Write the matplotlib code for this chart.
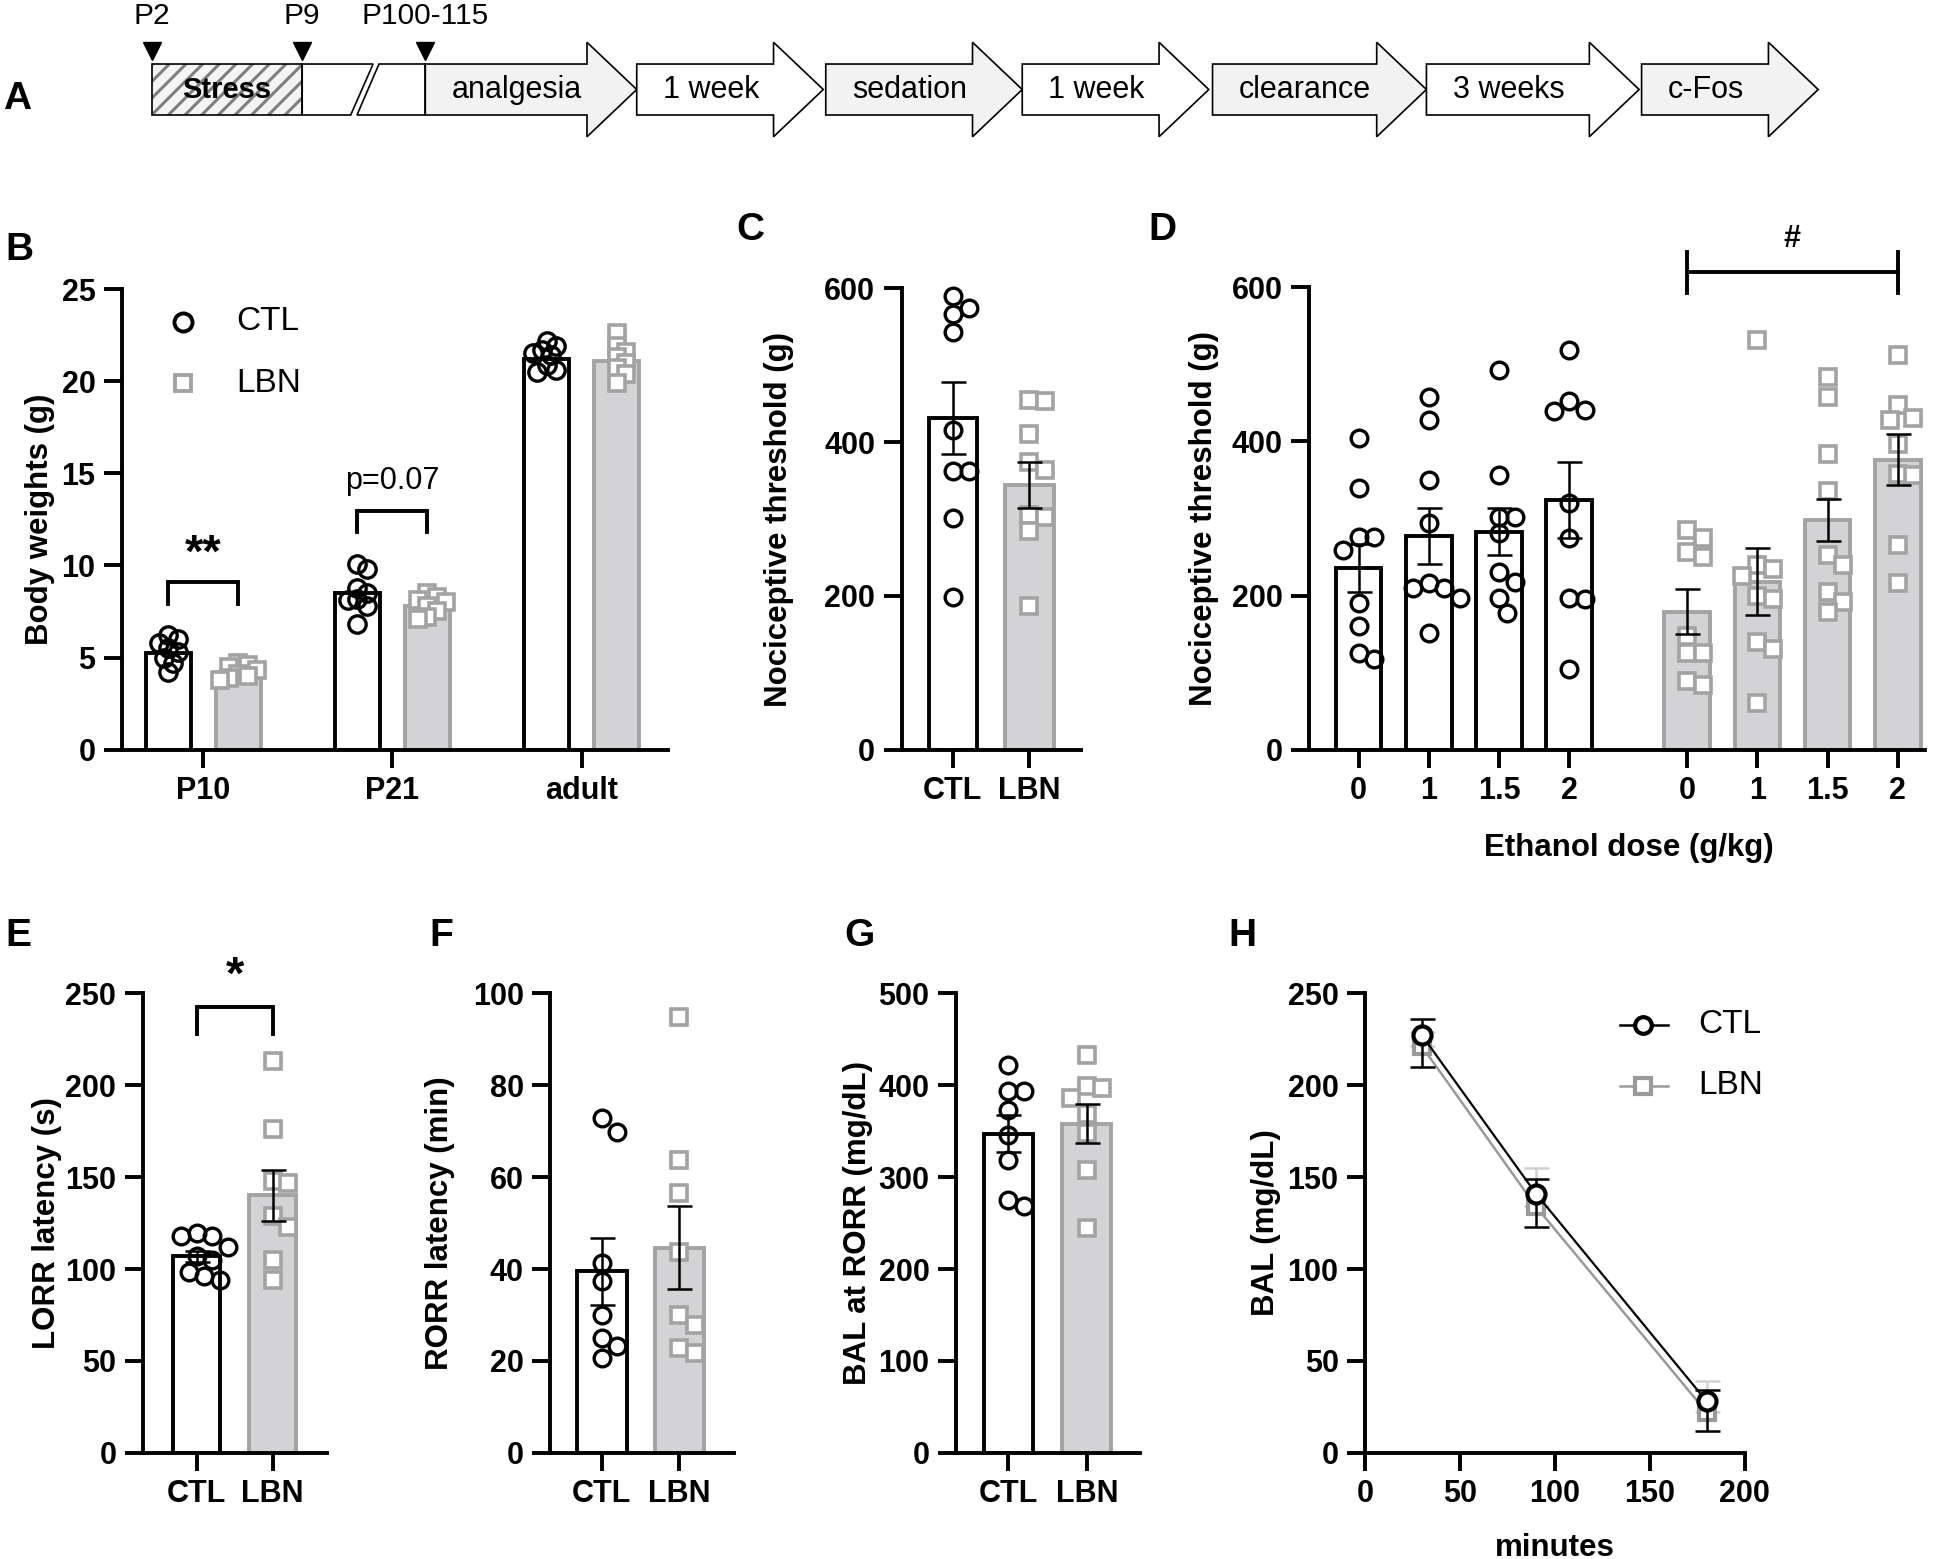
import matplotlib
matplotlib.use("Agg")
import matplotlib.pyplot as plt
import numpy as np
from matplotlib.lines import Line2D
from matplotlib.patches import Polygon

plt.rcParams['font.family'] = ['Liberation Sans', 'DejaVu Sans']
plt.rcParams['hatch.linewidth'] = 2.2
plt.rcParams['hatch.color'] = '#7f7f7f'

# ---------------- data ----------------
# A: timeline
timeline_steps = ['analgesia', '1 week', 'sedation', '1 week', 'clearance', '3 weeks', 'c-Fos']
timeline_marks = ['P2', 'P9', 'P100-115']

# B: body weights (g)
b_ages = ['P10', 'P21', 'adult']
b_ctl_mean = [5.25, 8.5, 21.2]
b_lbn_mean = [4.2, 7.8, 21.1]
b_ctl_points = [[6.2, 6.0, 5.8, 5.5, 5.3, 5.0, 4.7, 4.2],
                [10.1, 9.8, 8.8, 8.5, 8.2, 8.15, 7.8, 6.8],
                [22.2, 21.9, 21.7, 21.55, 21.4, 20.9, 20.6, 20.5]]
b_lbn_points = [[4.7, 4.6, 4.5, 4.3, 4.1, 4.0, 3.9, 3.8],
                [8.5, 8.3, 8.1, 8.0, 7.8, 7.5, 7.2, 7.1],
                [22.6, 21.9, 21.6, 21.3, 21.0, 20.7, 20.4, 19.9]]

# C: nociceptive threshold (g)
groups = ['CTL', 'LBN']
c_mean = [431, 344]
c_sem = [47, 30]
c_ctl_points = [590, 575, 567, 543, 416, 363, 363, 301, 199]
c_lbn_points = [455, 453, 411, 374, 364, 305, 303, 284, 187]

# D: nociceptive threshold by ethanol dose
d_doses = ['0', '1', '1.5', '2']
d_ctl_mean = [236, 277, 283, 324]
d_ctl_sem = [31, 36, 31, 49]
d_lbn_mean = [179, 218, 298, 376]
d_lbn_sem = [29, 43, 27, 33]
d_ctl_points = [[404, 339, 276, 276, 259, 190, 160, 125, 117],
                [458, 428, 350, 294, 216, 210, 210, 197, 151],
                [493, 356, 302, 302, 281, 231, 218, 197, 177],
                [519, 452, 441, 439, 320, 275, 197, 195, 104]]
d_lbn_points = [[285, 275, 257, 250, 147, 125, 125, 89, 84],
                [532, 240, 235, 225, 200, 195, 140, 130, 60],
                [484, 458, 383, 335, 253, 240, 205, 192, 179],
                [512, 447, 430, 428, 396, 358, 356, 266, 216]]

# E: LORR latency (s)
e_mean = [107, 140]
e_sem = [3, 14]
e_ctl_points = [119.5, 118, 118, 112, 107, 105, 98.6, 96, 94]
e_lbn_points = [213, 176, 148, 147, 129, 123, 105, 94]

# F: RORR latency (min)
f_mean = [39.5, 44.6]
f_sem = [7.3, 9.0]
f_ctl_points = [72.8, 69.9, 41.3, 37.3, 30.1, 25.0, 23.2, 20.7]
f_lbn_points = [94.9, 63.8, 56.5, 43.8, 30.1, 27.9, 22.8, 21.7]

# G: BAL at RORR (mg/dL)
g_mean = [347, 358]
g_sem = [20, 21.5]
g_ctl_points = [422, 393, 393, 373, 346, 319, 275, 268]
g_lbn_points = [433, 399, 397, 386, 368, 348, 308, 245]

# H: BAL clearance
h_minutes = [30, 90, 180]
h_ctl = [227, 141, 28]
h_ctl_err_lo = [17, 18, 16]
h_ctl_err_hi = [9, 8, 6]
h_lbn = [221, 134, 22]
h_lbn_err_lo = [0, 0, 0]
h_lbn_err_hi = [8, 21, 17]

# ---------------- layout helpers ----------------
REF_W, REF_H = 1568.0, 1254.0
FIG_W, FIG_H, DPI = 19.5, 15.59, 100
LW = 2.8
TICK_LEN = 13
LBN_FILL = '#d3d3d5'
LBN_EDGE = '#a3a3a3'
TICK_FS = 22
LABEL_FS = 22.5

fig = plt.figure(figsize=(FIG_W, FIG_H), dpi=DPI)


def fx(x):
    return x / REF_W


def fy(y):
    return 1 - y / REF_H


def make_axes(x0, y0, x1, y1, xlim, ylim):
    ax = fig.add_axes([fx(x0), fy(y1), fx(x1) - fx(x0), fy(y0) - fy(y1)])
    ax.set_xlim(*xlim)
    ax.set_ylim(*ylim)
    ax.spines[['top', 'right']].set_visible(False)
    for s in ['left', 'bottom']:
        ax.spines[s].set_linewidth(LW)
        ax.spines[s].set_capstyle('projecting')
    ax.tick_params(length=TICK_LEN, width=LW, pad=6)
    ax.patch.set_alpha(0)
    return ax


def set_ticks(ax, xt, xl, yt):
    ax.set_xticks(xt, xl, fontsize=TICK_FS, fontweight='bold')
    ax.set_yticks(yt, [str(v) for v in yt], fontsize=TICK_FS, fontweight='bold')


def ylabel(ax, text, x_ref):
    ax.set_ylabel(text, fontsize=LABEL_FS, fontweight='bold', va='center')
    pos = ax.get_position()
    ax.yaxis.set_label_coords((fx(x_ref) - pos.x0) / pos.width, 0.5)


def swarm(ax, values, diam_pt, overlap=0.78):
    # simple beeswarm: spread points sideways only as far as needed
    pos = ax.get_position()
    w_px = pos.width * FIG_W * DPI
    h_px = pos.height * FIG_H * DPI
    x0, x1 = ax.get_xlim()
    y0, y1 = ax.get_ylim()
    ppx = w_px / (x1 - x0)
    ppy = h_px / (y1 - y0)
    d = diam_pt * DPI / 72 * overlap
    placed = []
    offs = np.zeros(len(values))
    for i in np.argsort(values)[::-1]:
        y = values[i] * ppy
        k = 0
        found = None
        while found is None:
            cands = [0.0] if k == 0 else [k * d * 0.5, -k * d * 0.5]
            for c in cands:
                if all((c - px) ** 2 + (y - py) ** 2 >= d * d for px, py in placed):
                    found = c
                    break
            k += 1
        placed.append((found, y))
        offs[i] = found / ppx
    return offs


def dot_bars(ax, xs, means, sems, points, kind, width, ms=12, overlap=0.78):
    for i, (x, m, pts) in enumerate(zip(xs, means, points)):
        pts = np.asarray(pts, dtype=float)
        offs = swarm(ax, pts, ms + 2.4, overlap)
        if kind == 'ctl':
            ax.bar(x, m, width, color='white', edgecolor='black', linewidth=LW, zorder=1)
            ax.plot(x + offs, pts, ls='none', marker='o', ms=ms, mfc='none', mec='black',
                    mew=2.4, zorder=3, clip_on=False)
        else:
            ax.bar(x, m, width, color=LBN_FILL, edgecolor=LBN_EDGE, linewidth=LW, zorder=1)
            ax.plot(x + offs, pts, ls='none', marker='s', ms=ms - 1, mfc='white', mec=LBN_EDGE,
                    mew=2.6, zorder=2, clip_on=False)
        if sems is not None:
            ax.errorbar(x, m, yerr=sems[i], fmt='none', ecolor='black', elinewidth=1.8,
                        capsize=9, capthick=1.8, zorder=4)


def bracket(ax, xa, xb, y_top, y_leg):
    ax.plot([xa, xa, xb, xb], [y_leg, y_top, y_top, y_leg], color='black', lw=LW,
            clip_on=False, solid_joinstyle='miter')


def panel_label(txt, x, y):
    fig.text(fx(x), fy(y), txt, fontsize=28, fontweight='bold', ha='center', va='center')


# ---------------- A: timeline ----------------
axA = fig.add_axes([0, 0, 1, 1])
axA.set_xlim(0, REF_W)
axA.set_ylim(REF_H, 0)
axA.axis('off')

top, bot, mid = 51.5, 92.5, 72.0
head_top, head_bot = 34.0, 110.0

axA.add_patch(Polygon([(122, top), (243, top), (243, bot), (122, bot)], closed=True,
                      facecolor='#f4f4f4', hatch='//', edgecolor='#7f7f7f', lw=0))
axA.add_patch(Polygon([(122, top), (243, top), (243, bot), (122, bot)], closed=True,
                      facecolor='none', edgecolor='black', lw=1.2))
axA.text(182, mid, 'Stress', fontsize=21, fontweight='bold', ha='center', va='center')
axA.add_patch(Polygon([(243, top), (300, top), (282, bot), (243, bot)], closed=True,
                      facecolor='white', edgecolor='black', lw=1.2))
axA.add_patch(Polygon([(305, top), (342, top), (342, bot), (287, bot)], closed=True,
                      facecolor='white', edgecolor='black', lw=1.2))

starts = [342, 512, 664, 822, 975, 1147, 1320]
tips = [512, 662, 822, 972, 1147, 1318, 1462]
for i, (label, x0, xt) in enumerate(zip(timeline_steps, starts, tips)):
    xb = xt - 40
    face = '#f2f2f2' if i % 2 == 0 else 'white'
    axA.add_patch(Polygon([(x0, top), (xb, top), (xb, head_top), (xt, mid), (xb, head_bot),
                           (xb, bot), (x0, bot)], closed=True, facecolor=face,
                          edgecolor='black', lw=1.2, joinstyle='miter'))
    axA.text(x0 + 21, mid, label, fontsize=22, ha='left', va='center')

for label, xm in zip(timeline_marks, [122, 243, 342]):
    axA.plot([xm], [41], marker='v', ms=13, color='black', ls='none')
    axA.text(xm, 13, label, fontsize=21.5, ha='center', va='center')

panel_label('A', 14, 80)

# ---------------- B ----------------
axB = make_axes(98, 232.5, 537, 603, (-0.43, 2.455), (0, 25))
gx = np.arange(len(b_ages))
set_ticks(axB, gx, b_ages, [0, 5, 10, 15, 20, 25])
dot_bars(axB, gx - 0.185, b_ctl_mean, None, b_ctl_points, 'ctl', 0.24, ms=12.5, overlap=0.45)
dot_bars(axB, gx + 0.185, b_lbn_mean, None, b_lbn_points, 'lbn', 0.24, ms=12.5, overlap=0.45)
ylabel(axB, 'Body weights (g)', 32)
bracket(axB, -0.185, 0.185, 9.1, 7.9)
axB.text(0, 10.6, '**', fontsize=34, fontweight='bold', ha='center', va='center')
bracket(axB, 1 - 0.185, 1 + 0.185, 12.95, 11.8)
axB.text(1, 14.6, 'p=0.07', fontsize=22, ha='center', va='center')
fig.add_artist(Line2D([fx(147.4)], [fy(258.7)], marker='o', ms=13, mfc='none', mec='black',
                      mew=2.8, transform=fig.transFigure))
fig.add_artist(Line2D([fx(147.4)], [fy(308.2)], marker='s', ms=12, mfc='white', mec=LBN_EDGE,
                      mew=2.8, transform=fig.transFigure))
fig.text(fx(190), fy(258.7), 'CTL', fontsize=24, ha='left', va='center')
fig.text(fx(190), fy(308.2), 'LBN', fontsize=24, ha='left', va='center')
panel_label('B', 16, 201)

# ---------------- C ----------------
axC = make_axes(725, 232, 869, 603, (-0.67, 1.67), (0, 600))
set_ticks(axC, [0, 1], groups, [0, 200, 400, 600])
dot_bars(axC, [0], [c_mean[0]], [c_sem[0]], [c_ctl_points], 'ctl', 0.63)
dot_bars(axC, [1], [c_mean[1]], [c_sem[1]], [c_lbn_points], 'lbn', 0.63)
ylabel(axC, 'Nociceptive threshold (g)', 626)
panel_label('C', 603, 185)

# ---------------- D ----------------
axD = make_axes(1052.6, 231, 1548, 603, (-0.705, 8.07), (0, 600))
ctl_x = np.arange(len(d_doses))
lbn_x = np.arange(len(d_doses)) + 4.68
set_ticks(axD, list(ctl_x) + list(lbn_x), d_doses + d_doses, [0, 200, 400, 600])
dot_bars(axD, ctl_x, d_ctl_mean, d_ctl_sem, d_ctl_points, 'ctl', 0.65)
dot_bars(axD, lbn_x, d_lbn_mean, d_lbn_sem, d_lbn_points, 'lbn', 0.65)
ylabel(axD, 'Nociceptive threshold (g)', 968)
axD.set_xlabel('Ethanol dose (g/kg)', fontsize=LABEL_FS, fontweight='bold', va='center')
posD = axD.get_position()
axD.xaxis.set_label_coords((fx(1310) - posD.x0) / posD.width,
                           (fy(682) - posD.y0) / posD.height)
axD.plot([lbn_x[0], lbn_x[-1]], [620, 620], color='black', lw=LW, clip_on=False)
for xe in (lbn_x[0], lbn_x[-1]):
    axD.plot([xe, xe], [593, 645], color='black', lw=LW, clip_on=False)
axD.text((lbn_x[0] + lbn_x[-1]) / 2, 662, '#', fontsize=22, fontweight='bold',
         ha='center', va='center')
panel_label('D', 935, 185)

# ---------------- E ----------------
axE = make_axes(114.7, 798.8, 262.7, 1168.7, (-0.71, 1.71), (0, 250))
set_ticks(axE, [0, 1], groups, [0, 50, 100, 150, 200, 250])
dot_bars(axE, [0], [e_mean[0]], [e_sem[0]], [e_ctl_points], 'ctl', 0.62)
dot_bars(axE, [1], [e_mean[1]], [e_sem[1]], [e_lbn_points], 'lbn', 0.62)
ylabel(axE, 'LORR latency (s)', 38)
bracket(axE, 0, 1, 242.5, 228)
axE.text(0.5, 259, '*', fontsize=34, fontweight='bold', ha='center', va='center')
panel_label('E', 15, 753)

# ---------------- F ----------------
axF = make_axes(442.3, 798.8, 590, 1168.7, (-0.665, 1.70), (0, 100))
set_ticks(axF, [0, 1], groups, [0, 20, 40, 60, 80, 100])
dot_bars(axF, [0], [f_mean[0]], [f_sem[0]], [f_ctl_points], 'ctl', 0.64)
dot_bars(axF, [1], [f_mean[1]], [f_sem[1]], [f_lbn_points], 'lbn', 0.64)
ylabel(axF, 'RORR latency (min)', 354)
panel_label('F', 355, 753)

# ---------------- G ----------------
axG = make_axes(768.7, 798.8, 916.7, 1168.7, (-0.67, 1.68), (0, 500))
set_ticks(axG, [0, 1], groups, [0, 100, 200, 300, 400, 500])
dot_bars(axG, [0], [g_mean[0]], [g_sem[0]], [g_ctl_points], 'ctl', 0.63)
dot_bars(axG, [1], [g_mean[1]], [g_sem[1]], [g_lbn_points], 'lbn', 0.63)
ylabel(axG, 'BAL at RORR (mg/dL)', 690)
panel_label('G', 691, 753)

# ---------------- H ----------------
axH = make_axes(1097.6, 798.8, 1403, 1168.7, (0, 200), (0, 250))
set_ticks(axH, [0, 50, 100, 150, 200], ['0', '50', '100', '150', '200'],
          [0, 50, 100, 150, 200, 250])
axH.errorbar(h_minutes, h_lbn, yerr=[h_lbn_err_lo, h_lbn_err_hi], fmt='none', ecolor='#d0d0d0',
             elinewidth=1.8, capsize=9, capthick=1.8, zorder=2, clip_on=False)
axH.plot(h_minutes, h_lbn, color='#9a9a9a', lw=1.8, marker='s', ms=12, mfc='white',
         mec='#9a9a9a', mew=3, zorder=3, clip_on=False)
axH.errorbar(h_minutes, h_ctl, yerr=[h_ctl_err_lo, h_ctl_err_hi], fmt='none', ecolor='black',
             elinewidth=1.8, capsize=9, capthick=1.8, zorder=4, clip_on=False)
axH.plot(h_minutes, h_ctl, color='black', lw=1.6, marker='o', ms=13, mfc='white',
         mec='black', mew=3, zorder=5, clip_on=False)
ylabel(axH, 'BAL (mg/dL)', 1018)
fig.text(fx(1250), fy(1245), 'minutes', fontsize=LABEL_FS, fontweight='bold',
         ha='center', va='center')
for y_ref, txt, col, mk in [(824.2, 'CTL', 'black', 'o'), (873.3, 'LBN', '#9a9a9a', 's')]:
    fig.add_artist(Line2D([fx(1302.7), fx(1341.5)], [fy(y_ref), fy(y_ref)], color=col, lw=1.8,
                          transform=fig.transFigure))
    fig.add_artist(Line2D([fx(1321.4)], [fy(y_ref)], marker=mk, ms=12, mfc='white', mec=col,
                          mew=3, transform=fig.transFigure))
    fig.text(fx(1365.7), fy(y_ref), txt, fontsize=24, ha='left', va='center')
panel_label('H', 999, 753)

fig.savefig('out.png', dpi=DPI)
